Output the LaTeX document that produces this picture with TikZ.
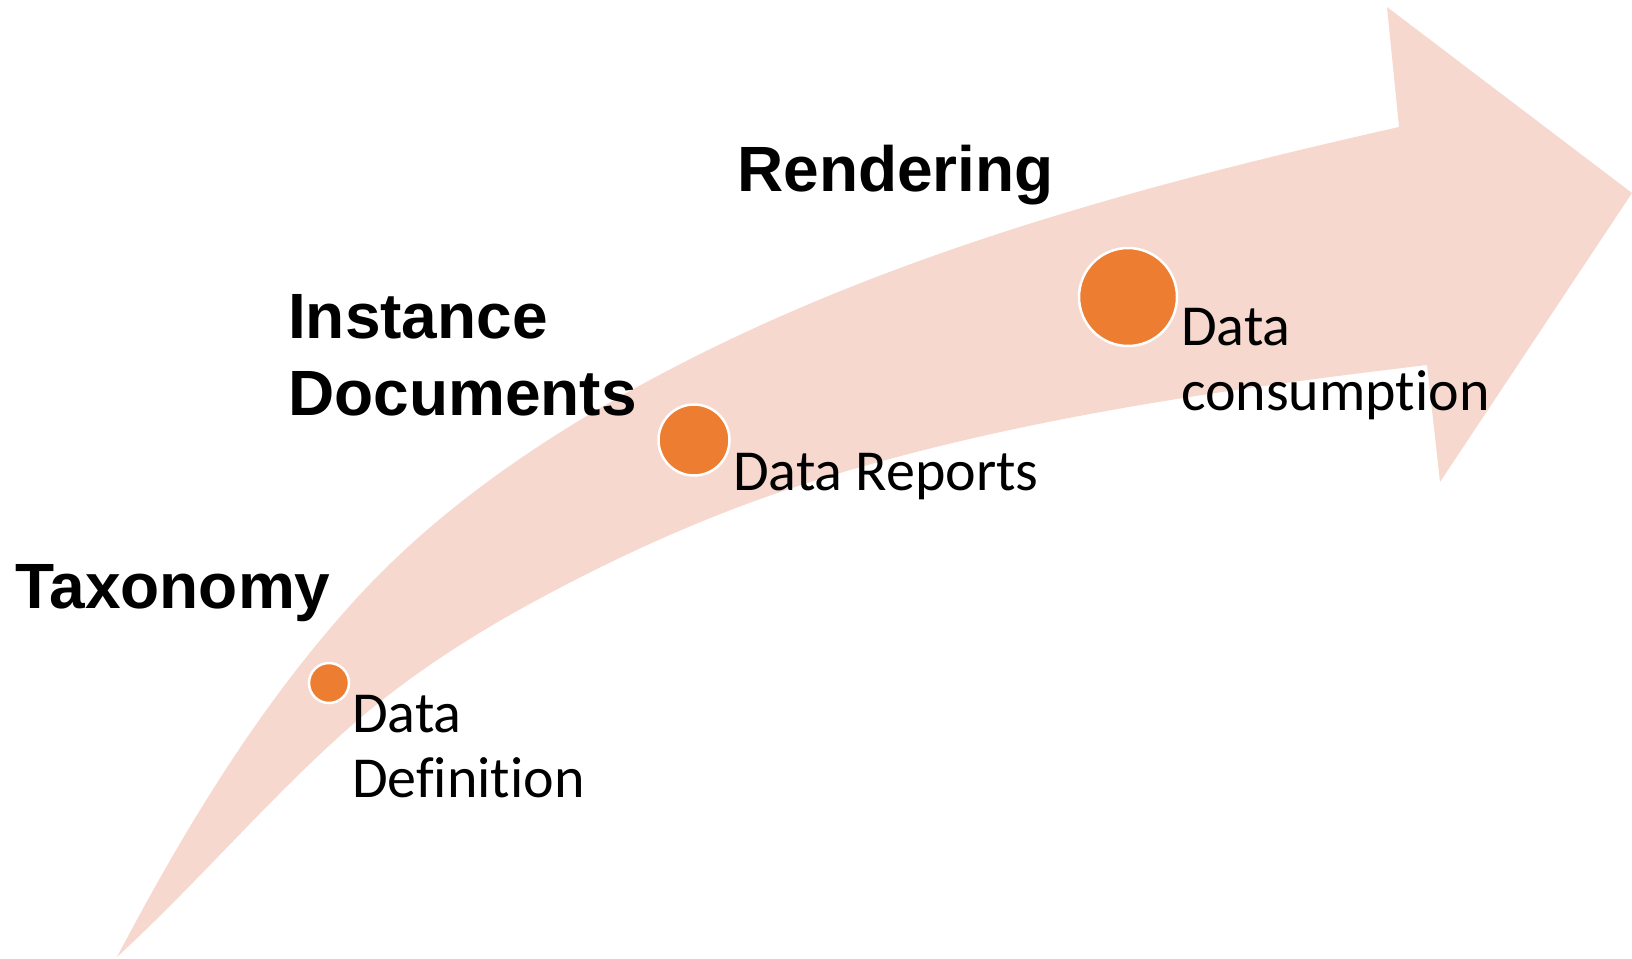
\documentclass[tikz,border=0pt]{standalone}
\usepackage{fontspec}
\setmainfont{Carlito}[Ligatures=NoCommon]
\newfontfamily\titlefont{Liberation Sans}
\definecolor{arrowfill}{HTML}{F7D8CE}
\definecolor{dotorange}{HTML}{ED7D31}
\tikzset{
  dot/.style={circle, fill=dotorange, draw=white, line width=2.5pt, inner sep=0pt},
  titletext/.style={anchor=base west, inner sep=0pt, font=\titlefont\bfseries\fontsize{64}{77}\selectfont},
  labeltext/.style={anchor=base west, inner sep=0pt, font=\fontsize{58}{65}\selectfont},
}
\begin{document}
\begin{tikzpicture}[x=1pt, y=-1pt]
\useasboundingbox (0,0) rectangle (1632,958);
% big curved arrow
\fill[arrowfill]
  (117,957)
  .. controls (183.6,830.4) and (258.8,705.8) .. (355,600)
  .. controls (437.8,509) and (541.8,438.4) .. (650,380)
  .. controls (881.4,255.1) and (1142.3,184.9) .. (1399,127)
  -- (1387,7) -- (1632,193) -- (1440,482) -- (1427,365)
  .. controls (1221.4,389.6) and (1014.7,418.7) .. (817,480)
  .. controls (719.6,510.2) and (626.8,551.5) .. (537,600)
  .. controls (468.4,637) and (401,680.8) .. (343,733)
  .. controls (264.2,803.9) and (195,885.2) .. (117,957)
  -- cycle;
% dots
\node[dot, minimum size=40pt] (d1) at (329,683) {};
\node[dot, minimum size=71pt] (d2) at (694,440) {};
\node[dot, minimum size=98pt] (d3) at (1128,297) {};
% titles
\node[titletext] (taxonomy) at (15,608) {Taxonomy};
\node[titletext] (instance) at (288,338) {\begin{tabular}[t]{@{}l@{}}Instance\\Documents\end{tabular}};
\node[titletext] (rendering) at (737,191) {Rendering};
% labels
\node[labeltext] (ldef) at (352,732) {\begin{tabular}[t]{@{}l@{}}Data\\Definition\end{tabular}};
\node[labeltext] (lrep) at (733,490) {Data Reports};
\node[labeltext] (lcon) at (1181,345) {\begin{tabular}[t]{@{}l@{}}Data\\consumption\end{tabular}};
\end{tikzpicture}
\end{document}
